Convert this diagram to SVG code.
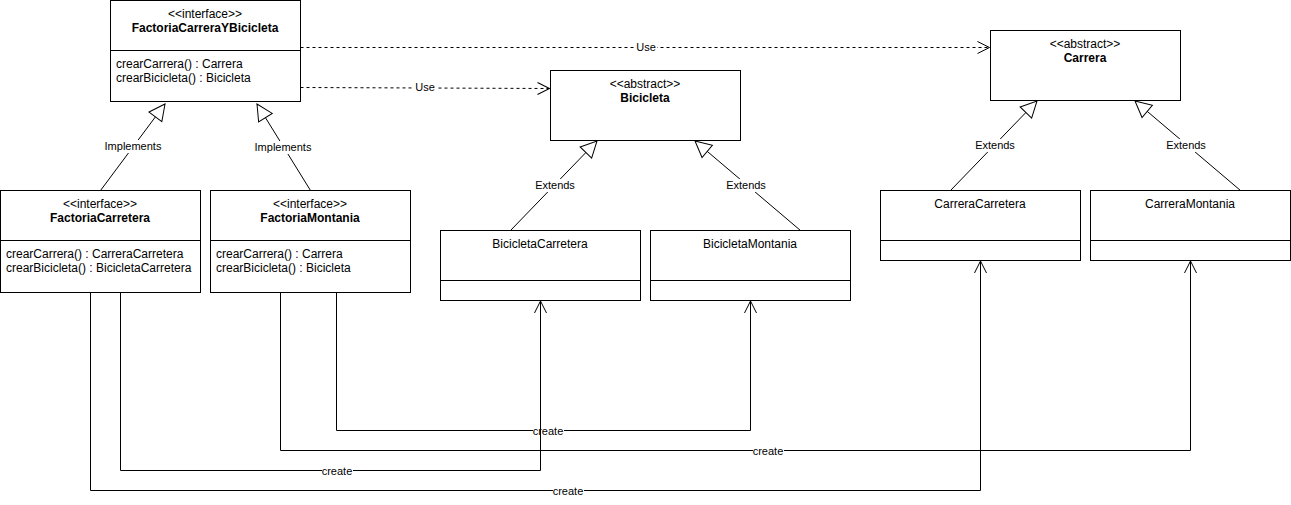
<svg xmlns="http://www.w3.org/2000/svg" width="1291" height="505" viewBox="0 0 1291 505">
<style>
.box{fill:#fff;stroke:#000;stroke-width:1}
.t{font-family:"Liberation Sans",Arial,sans-serif;font-size:12px;fill:#000}
.c{text-anchor:middle}
.b{font-weight:bold}
.ln{fill:none;stroke:#000;stroke-width:1}
.dash{stroke-dasharray:3,3}
.lbl{font-family:"Liberation Sans",Arial,sans-serif;font-size:11px;fill:#000;text-anchor:middle}
.lb{fill:#fff}
</style>
<defs>
<marker id="open" viewBox="-14 -8 16 16" refX="0" refY="0" markerWidth="16" markerHeight="16" markerUnits="userSpaceOnUse" orient="auto">
<path d="M-12,-6 L0,0 L-12,6" fill="none" stroke="#000" stroke-width="1"/>
</marker>
<marker id="tri" viewBox="-18 -10 20 20" refX="0" refY="0" markerWidth="20" markerHeight="20" markerUnits="userSpaceOnUse" orient="auto">
<path d="M-16,-8 L0,0 L-16,8 Z" fill="#fff" stroke="#000" stroke-width="1"/>
</marker>
</defs>
<rect x="0" y="0" width="1291" height="505" fill="#fff"/>

<g id="connectors">
<path class="ln dash" d="M300.5,47.5 L989.5,47.5" marker-end="url(#open)"/>
<rect class="lb" x="635" y="41" width="22" height="13"/><text class="lbl" x="646" y="51">Use</text>
<path class="ln dash" d="M300.5,87.5 L549.5,88.5" marker-end="url(#open)"/>
<rect class="lb" x="414" y="81" width="22" height="13"/><text class="lbl" x="425" y="91">Use</text>
<path class="ln" d="M100.5,190.5 L165,104" marker-end="url(#tri)"/>
<rect class="lb" x="104" y="140" width="58" height="13"/><text class="lbl" x="133" y="150">Implements</text>
<path class="ln" d="M310.5,190.5 L257,104" marker-end="url(#tri)"/>
<rect class="lb" x="254" y="141" width="58" height="13"/><text class="lbl" x="283" y="151">Implements</text>
<path class="ln" d="M510.5,230.5 L597,141" marker-end="url(#tri)"/>
<rect class="lb" x="534" y="179" width="42" height="13"/><text class="lbl" x="555" y="189">Extends</text>
<path class="ln" d="M800.5,230.5 L695,141" marker-end="url(#tri)"/>
<rect class="lb" x="725" y="179" width="42" height="13"/><text class="lbl" x="746" y="189">Extends</text>
<path class="ln" d="M950.5,190.5 L1037,101" marker-end="url(#tri)"/>
<rect class="lb" x="974" y="139" width="42" height="13"/><text class="lbl" x="995" y="149">Extends</text>
<path class="ln" d="M1240.5,190.5 L1135,101" marker-end="url(#tri)"/>
<rect class="lb" x="1165" y="139" width="42" height="13"/><text class="lbl" x="1186" y="149">Extends</text>

<path class="ln" d="M336.5,290.5 L336.5,430.5 L750.5,430.5 L750.5,301" marker-end="url(#open)"/>
<rect class="lb" x="533" y="425" width="31" height="12"/><text class="lbl" x="548" y="435">create</text>
<path class="ln" d="M280.5,292.5 L280.5,450.5 L1190.5,450.5 L1190.5,261" marker-end="url(#open)"/>
<rect class="lb" x="753" y="445" width="31" height="12"/><text class="lbl" x="768" y="455">create</text>
<path class="ln" d="M120.5,292.5 L120.5,470.5 L540.5,470.5 L540.5,301" marker-end="url(#open)"/>
<rect class="lb" x="322" y="465" width="31" height="12"/><text class="lbl" x="337" y="475">create</text>
<path class="ln" d="M90.5,292.5 L90.5,490.5 L980.5,490.5 L980.5,261" marker-end="url(#open)"/>
<rect class="lb" x="553" y="485" width="31" height="12"/><text class="lbl" x="568" y="495">create</text>
</g>

<g id="FactoriaCarreraYBicicleta">
<rect class="box" x="110.5" y="0.5" width="190" height="101"/>
<line class="ln" x1="110.5" y1="50.5" x2="300.5" y2="50.5"/>
<text class="t c" x="205" y="18">&lt;&lt;interface&gt;&gt;</text>
<text class="t c b" x="205" y="32">FactoriaCarreraYBicicleta</text>
<text class="t" x="116" y="68">crearCarrera() : Carrera</text>
<text class="t" x="116" y="82">crearBicicleta() : Bicicleta</text>
</g>

<g id="FactoriaCarretera">
<rect class="box" x="0.5" y="190.5" width="200" height="102"/>
<line class="ln" x1="0.5" y1="240.5" x2="200.5" y2="240.5"/>
<text class="t c" x="100" y="208">&lt;&lt;interface&gt;&gt;</text>
<text class="t c b" x="100" y="222">FactoriaCarretera</text>
<text class="t" x="6" y="258">crearCarrera() : CarreraCarretera</text>
<text class="t" x="6" y="272">crearBicicleta() : BicicletaCarretera</text>
</g>

<g id="FactoriaMontania">
<rect class="box" x="210.5" y="190.5" width="200" height="102"/>
<line class="ln" x1="210.5" y1="240.5" x2="410.5" y2="240.5"/>
<text class="t c" x="310" y="208">&lt;&lt;interface&gt;&gt;</text>
<text class="t c b" x="310" y="222">FactoriaMontania</text>
<text class="t" x="216" y="258">crearCarrera() : Carrera</text>
<text class="t" x="216" y="272">crearBicicleta() : Bicicleta</text>
</g>

<g id="Bicicleta">
<rect class="box" x="550.5" y="70.5" width="190" height="70"/>
<text class="t c" x="645" y="88">&lt;&lt;abstract&gt;&gt;</text>
<text class="t c b" x="645" y="102">Bicicleta</text>
</g>

<g id="Carrera">
<rect class="box" x="990.5" y="30.5" width="190" height="70"/>
<text class="t c" x="1085" y="48">&lt;&lt;abstract&gt;&gt;</text>
<text class="t c b" x="1085" y="62">Carrera</text>
</g>

<g id="BicicletaCarretera">
<rect class="box" x="440.5" y="230.5" width="200" height="70"/>
<line class="ln" x1="440.5" y1="280.5" x2="640.5" y2="280.5"/>
<text class="t c" x="540" y="248">BicicletaCarretera</text>
</g>

<g id="BicicletaMontania">
<rect class="box" x="650.5" y="230.5" width="200" height="70"/>
<line class="ln" x1="650.5" y1="280.5" x2="850.5" y2="280.5"/>
<text class="t c" x="750" y="248">BicicletaMontania</text>
</g>

<g id="CarreraCarretera">
<rect class="box" x="880.5" y="190.5" width="200" height="70"/>
<line class="ln" x1="880.5" y1="240.5" x2="1080.5" y2="240.5"/>
<text class="t c" x="980" y="208">CarreraCarretera</text>
</g>

<g id="CarreraMontania">
<rect class="box" x="1090.5" y="190.5" width="200" height="70"/>
<line class="ln" x1="1090.5" y1="240.5" x2="1290.5" y2="240.5"/>
<text class="t c" x="1190" y="208">CarreraMontania</text>
</g>
</svg>
